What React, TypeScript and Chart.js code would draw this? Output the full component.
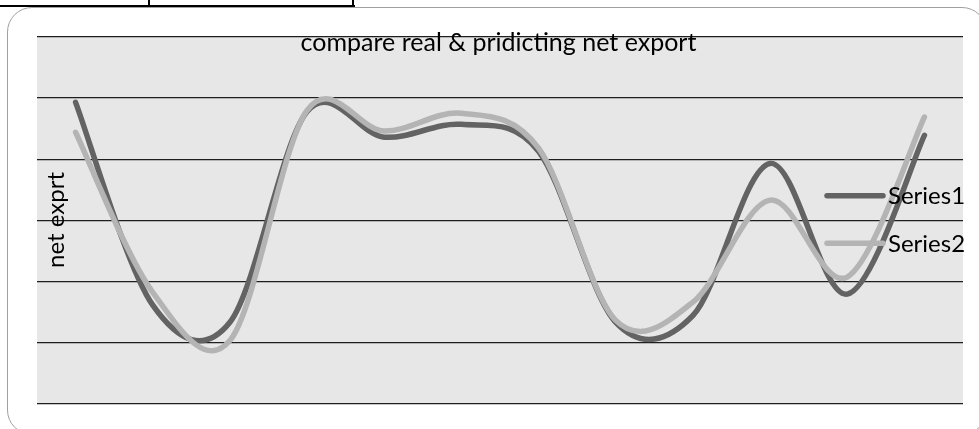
import { useEffect, useRef } from "react";
import { Chart, registerables } from "chart.js";

Chart.register(...registerables);

const categories = ["1", "2", "3", "4", "5", "6", "7", "8", "9", "10", "11", "12"];
const series1 = [4.93, 1.61, 1.33, 4.78, 4.36, 4.57, 4.13, 1.33, 1.44, 3.93, 1.79, 4.39];
const series2 = [4.44, 1.82, 1.03, 4.8, 4.46, 4.75, 4.18, 1.36, 1.66, 3.33, 2.07, 4.69];
const seriesNames = ["Series1", "Series2"];
const seriesColors = ["#636363", "#b4b4b4"];
const chartTitle = "compare real & pridicting net export";
const yAxisTitle = "net exprt";
const yMin = 0;
const yMax = 6;
const yStep = 1;

const FONT = "24px Lato";
const TITLE_FONT = "25px Lato";

// Excel-like smoothing: uniform Catmull-Rom control points
const smoothPlugin = {
  id: "smooth",
  beforeDatasetDraw(chart: any, args: any) {
    const meta = args.meta;
    const line = meta.dataset;
    if (line && typeof line.updateControlPoints === "function") {
      line.updateControlPoints(chart.chartArea, meta.iAxis);
    }
    const pts = meta.data;
    const n = pts.length;
    for (let i = 0; i < n; i++) {
      const p = pts[i];
      const prev = pts[Math.max(0, i - 1)];
      const next = pts[Math.min(n - 1, i + 1)];
      const dx = (next.x - prev.x) / 6;
      const dy = (next.y - prev.y) / 6;
      p.cp1x = p.x - dx;
      p.cp1y = p.y - dy;
      p.cp2x = p.x + dx;
      p.cp2y = p.y + dy;
    }
    if (line) line._path = undefined;
  },
};

const decorPlugin = {
  id: "decor",
  beforeDraw(chart: any) {
    const { ctx, chartArea } = chart;
    const { left, top, right, bottom } = chartArea;
    ctx.save();
    ctx.fillStyle = "#e7e7e7";
    ctx.fillRect(left, top, right - left, bottom - top);
    ctx.restore();
  },
  afterDatasetsDraw(chart: any) {
    const { ctx, chartArea } = chart;
    const { left, top, right } = chartArea;
    ctx.save();
    ctx.fillStyle = "#000";
    // title
    ctx.font = TITLE_FONT;
    ctx.textAlign = "center";
    ctx.textBaseline = "alphabetic";
    ctx.fillText(chartTitle, (left + right) / 2 - 1.5, top + 13.5);
    // y axis title
    ctx.font = FONT;
    ctx.save();
    ctx.translate(left + 27, top + 183);
    ctx.rotate(-Math.PI / 2);
    ctx.textAlign = "center";
    ctx.textBaseline = "alphabetic";
    ctx.fillText(yAxisTitle, 0, 0);
    ctx.restore();
    // legend
    chart.data.datasets.forEach((ds: any, i: number) => {
      const y = top + 158.7 + i * 47.6;
      ctx.strokeStyle = ds.borderColor;
      ctx.lineWidth = 5.5;
      ctx.lineCap = "round";
      ctx.beginPath();
      ctx.moveTo(right - 136, y);
      ctx.lineTo(right - 80, y);
      ctx.stroke();
      ctx.fillStyle = "#000";
      ctx.textAlign = "left";
      ctx.textBaseline = "alphabetic";
      ctx.fillText(ds.label, right - 75, y + 8.3);
    });
    ctx.restore();
  },
};

export default function App() {
  const canvasRef = useRef<HTMLCanvasElement | null>(null);

  useEffect(() => {
    if (!canvasRef.current) return;
    const chart = new Chart(canvasRef.current, {
      type: "line",
      data: {
        labels: categories,
        datasets: [
          {
            label: seriesNames[0],
            data: series1,
            borderColor: seriesColors[0],
            backgroundColor: seriesColors[0],
            borderWidth: 5.5,
            pointRadius: 0,
            tension: 0.4,
            borderCapStyle: "round",
            borderJoinStyle: "round",
            fill: false,
            order: 2,
          },
          {
            label: seriesNames[1],
            data: series2,
            borderColor: seriesColors[1],
            backgroundColor: seriesColors[1],
            borderWidth: 5.5,
            pointRadius: 0,
            tension: 0.4,
            borderCapStyle: "round",
            borderJoinStyle: "round",
            fill: false,
            order: 1,
          },
        ],
      },
      options: {
        responsive: false,
        animation: false,
        devicePixelRatio: 1,
        layout: { padding: { left: 37, top: 37, right: 16, bottom: 25.5 } },
        plugins: {
          legend: { display: false },
          tooltip: { enabled: false },
          title: { display: false },
        },
        scales: {
          x: {
            type: "category",
            display: false,
            offset: true,
          },
          y: {
            min: yMin,
            max: yMax,
            ticks: { display: false, stepSize: yStep },
            grid: { color: "#1e1e1e", lineWidth: 1.2, drawTicks: false },
            border: { display: false },
            afterFit: (s: any) => {
              s.width = 0;
            },
          },
        },
      },
      plugins: [smoothPlugin, decorPlugin],
    });
    return () => chart.destroy();
  }, []);

  return (
    <div
      style={{
        position: "absolute",
        left: 0,
        top: 0,
        width: 979,
        height: 429,
        overflow: "hidden",
        background: "#fff",
      }}
    >
      <div style={{ position: "absolute", left: 0, top: 5, width: 355, height: 2, background: "#000" }} />
      <div style={{ position: "absolute", left: 148, top: 0, width: 2, height: 7, background: "#000" }} />
      <div style={{ position: "absolute", left: 352, top: 0, width: 2, height: 7, background: "#000" }} />
      <div
        style={{
          position: "absolute",
          left: 7,
          top: 7,
          width: 980,
          height: 428,
          border: "1.3px solid #a0a0a0",
          borderRadius: 25,
          boxSizing: "border-box",
        }}
      />
      <canvas
        ref={canvasRef}
        width={979}
        height={429}
        style={{ position: "absolute", left: 0, top: 0, width: 979, height: 429 }}
      />
    </div>
  );
}
